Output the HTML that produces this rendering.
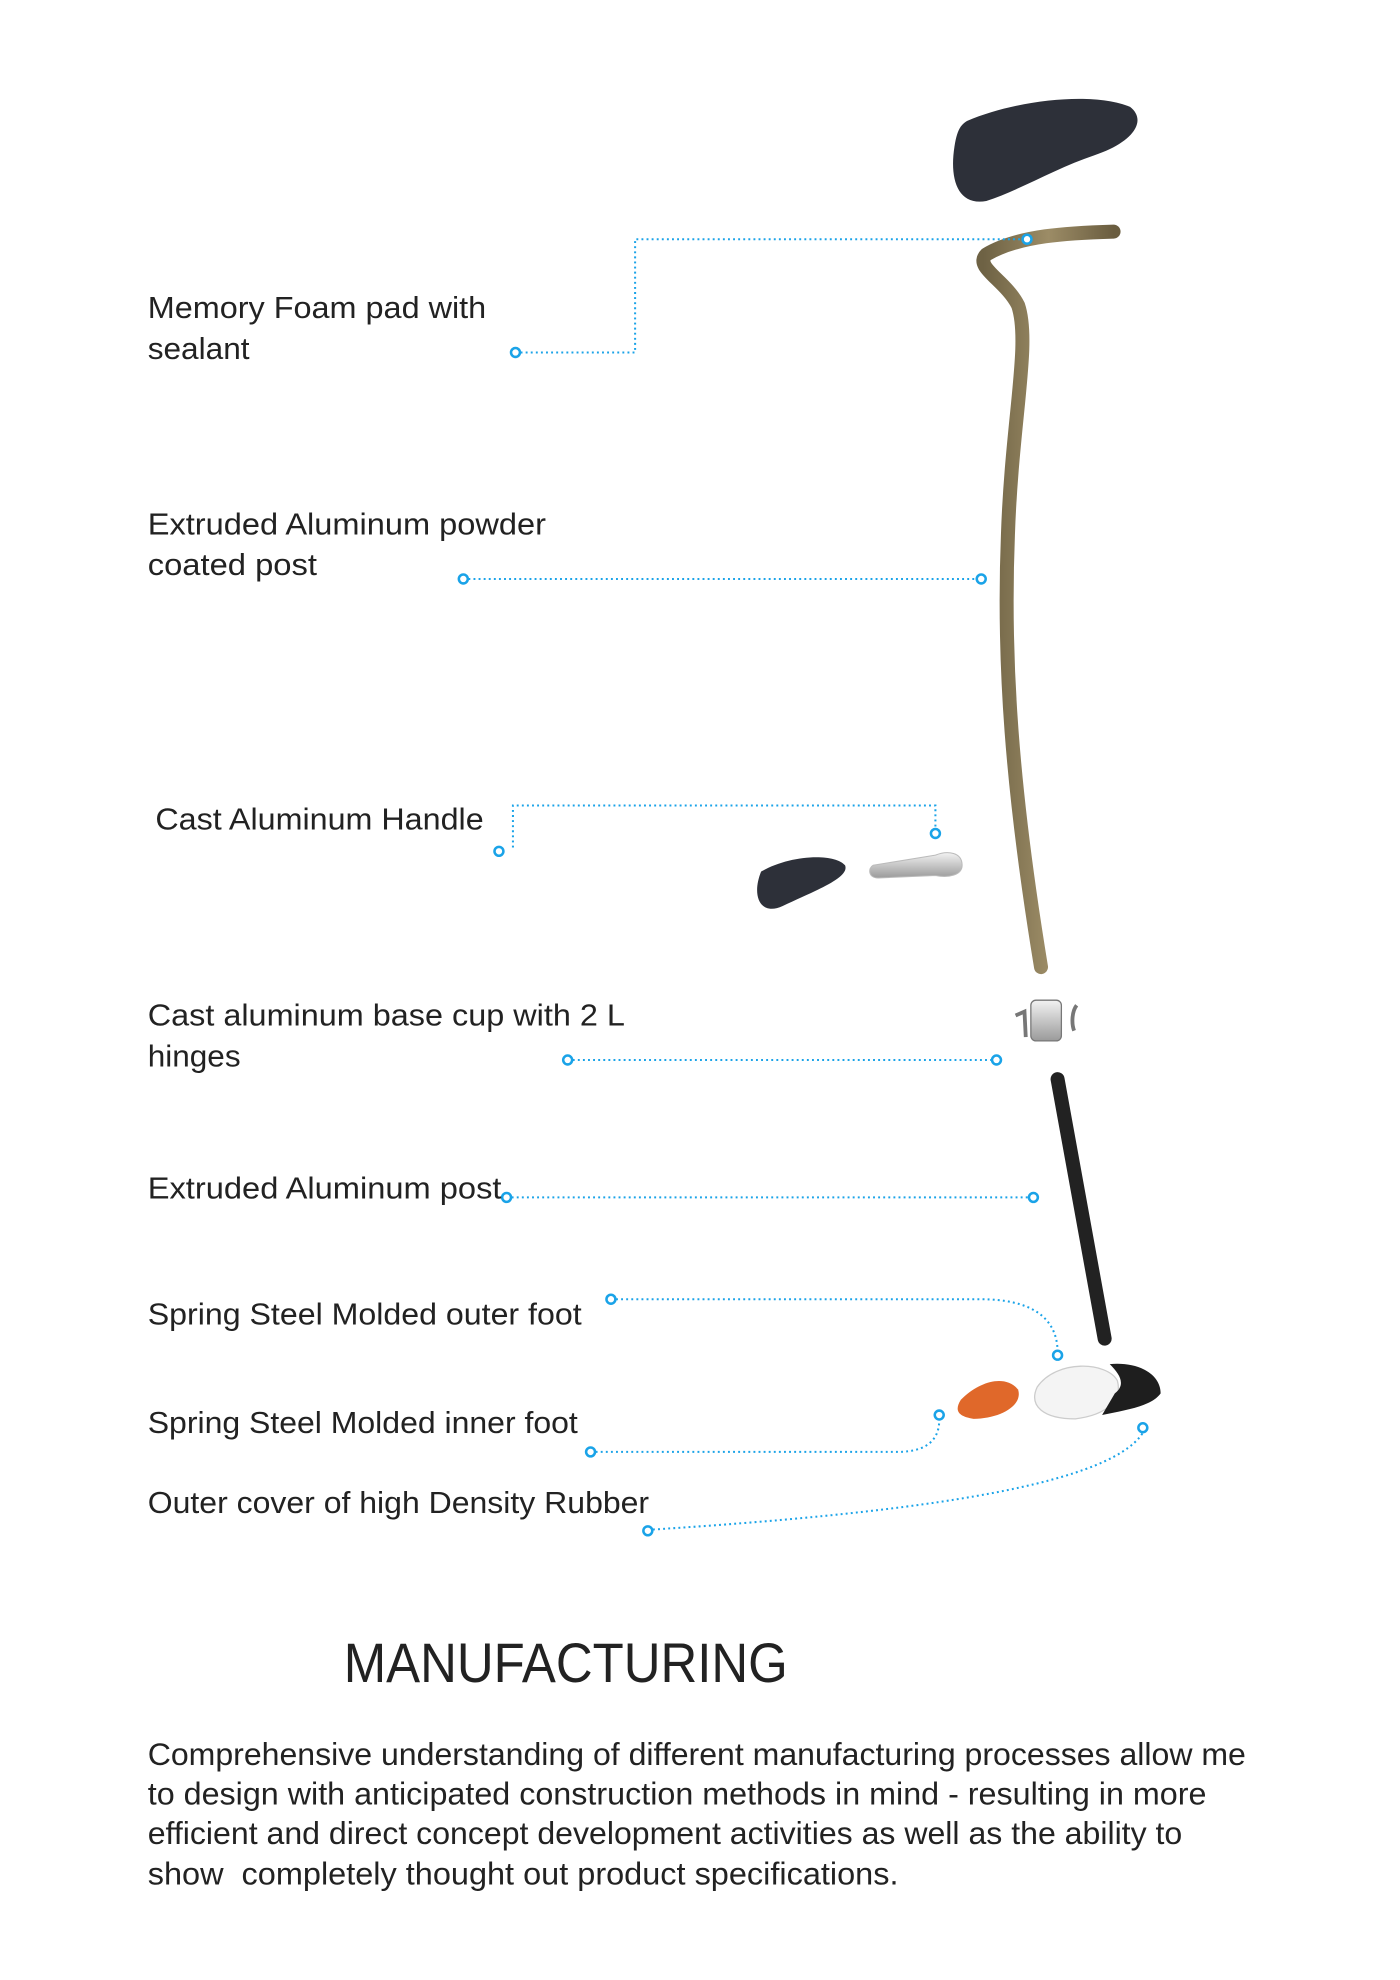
<!DOCTYPE html>
<html><head><meta charset="utf-8"><style>
html,body{margin:0;padding:0;background:#fff;}
svg{display:block;}
text{font-family:"Liberation Sans",sans-serif;fill:#222;}
</style></head><body>
<svg width="1400" height="1980" viewBox="0 0 1100 1556" xmlns="http://www.w3.org/2000/svg">
<defs>
<linearGradient id="post" x1="0" x2="1"><stop offset="0" stop-color="#6e6244"/><stop offset="0.5" stop-color="#9c8c66"/><stop offset="1" stop-color="#6a5d40"/></linearGradient>
<linearGradient id="silver" x1="0" x2="0" y1="0" y2="1"><stop offset="0" stop-color="#f2f2f2"/><stop offset="1" stop-color="#9a9a9a"/></linearGradient>
</defs>
<path d="M760 95 C800 78 860 72 888 84 C902 95 890 112 860 122 C830 132 800 150 775 158 C752 162 746 140 750 115 C752 102 755 98 760 95Z" fill="#2d3039"/>
<path d="M875 182 C840 183 800 185 775 200 C765 210 790 220 800 240 C810 270 795 330 792 420 C788 520 795 620 818 760" fill="none" stroke="url(#post)" stroke-width="11" stroke-linecap="round"/>
<path d="M598 685 C620 672 655 670 664 680 C668 690 640 700 615 712 C598 720 590 705 598 685Z" fill="#2d3039"/>
<path d="M686 680 L735 672 C745 668 756 670 756 680 C756 688 745 690 735 688 L690 690 C682 690 682 682 686 680Z" fill="url(#silver)" stroke="#bbb" stroke-width="0.8"/>
<rect x="810" y="786" width="24" height="32" rx="4" fill="url(#silver)" stroke="#777" stroke-width="1"/>
<path d="M798 798 L805 795 L806 815" fill="none" stroke="#777" stroke-width="3"/>
<path d="M846 790 C842 795 842 805 844 810" fill="none" stroke="#777" stroke-width="3"/>
<path d="M831 848 L868 1052" stroke="#222" stroke-width="11" stroke-linecap="round"/>
<path d="M755 1100 C770 1085 790 1080 800 1092 C804 1105 785 1115 765 1115 C752 1113 750 1108 755 1100Z" fill="#e0682a"/>
<path d="M815 1090 C830 1068 870 1070 878 1085 C882 1100 870 1112 845 1115 C820 1115 808 1105 815 1090Z" fill="#f4f4f4" stroke="#ccc" stroke-width="1"/>
<path d="M872 1072 C895 1070 912 1080 912 1095 C905 1105 885 1108 866 1112 L876 1095 C885 1088 880 1080 872 1072Z" fill="#1e1e1e"/>
<g fill="none" stroke="#1aa3e8" stroke-width="1.6" stroke-dasharray="1.5 2.5">
<path d="M409 277 H499 V188 H803"/>
<path d="M368 455 H767"/>
<path d="M403 666 V633 H735 V651"/>
<path d="M450 833 H779"/>
<path d="M402 941 H808"/>
<path d="M484 1021 H770 C810 1021 830 1035 831 1061"/>
<path d="M468 1141 H705 C730 1141 738 1130 738 1116"/>
<path d="M513 1202 C700 1190 870 1170 898 1126"/>
</g>
<g fill="#fff" stroke="#1aa3e8" stroke-width="2">
<circle cx="405" cy="277" r="3.5"/><circle cx="807" cy="188" r="3.5"/>
<circle cx="364" cy="455" r="3.5"/><circle cx="771" cy="455" r="3.5"/>
<circle cx="392" cy="669" r="3.5"/><circle cx="735" cy="655" r="3.5"/>
<circle cx="446" cy="833" r="3.5"/><circle cx="783" cy="833" r="3.5"/>
<circle cx="398" cy="941" r="3.5"/><circle cx="812" cy="941" r="3.5"/>
<circle cx="480" cy="1021" r="3.5"/><circle cx="831" cy="1065" r="3.5"/>
<circle cx="464" cy="1141" r="3.5"/><circle cx="738" cy="1112" r="3.5"/>
<circle cx="509" cy="1203" r="3.5"/><circle cx="898" cy="1122" r="3.5"/>
</g>
<g font-size="24" lengthAdjust="spacingAndGlyphs">
<text x="116" y="250" textLength="266" lengthAdjust="spacingAndGlyphs">Memory Foam pad with</text>
<text x="116" y="282" textLength="80" lengthAdjust="spacingAndGlyphs">sealant</text>
<text x="116" y="420" textLength="313" lengthAdjust="spacingAndGlyphs">Extruded Aluminum powder</text>
<text x="116" y="452" textLength="133" lengthAdjust="spacingAndGlyphs">coated post</text>
<text x="122" y="652" textLength="258" lengthAdjust="spacingAndGlyphs">Cast Aluminum Handle</text>
<text x="116" y="806" textLength="375" lengthAdjust="spacingAndGlyphs">Cast aluminum base cup with 2 L</text>
<text x="116" y="838" textLength="73" lengthAdjust="spacingAndGlyphs">hinges</text>
<text x="116" y="942" textLength="278" lengthAdjust="spacingAndGlyphs">Extruded Aluminum post</text>
<text x="116" y="1041" textLength="341" lengthAdjust="spacingAndGlyphs">Spring Steel Molded outer foot</text>
<text x="116" y="1126" textLength="338" lengthAdjust="spacingAndGlyphs">Spring Steel Molded inner foot</text>
<text x="116" y="1189" textLength="394" lengthAdjust="spacingAndGlyphs">Outer cover of high Density Rubber</text>
</g>
<text x="270" y="1322" font-size="44" textLength="349" lengthAdjust="spacingAndGlyphs">MANUFACTURING</text>
<g font-size="25">
<text x="116" y="1387" textLength="863" lengthAdjust="spacingAndGlyphs">Comprehensive understanding of different manufacturing processes allow me</text>
<text x="116" y="1418" textLength="832" lengthAdjust="spacingAndGlyphs">to design with anticipated construction methods in mind - resulting in more</text>
<text x="116" y="1449" textLength="813" lengthAdjust="spacingAndGlyphs">efficient and direct concept development activities as well as the ability to</text>
<text x="116" y="1481" textLength="590" lengthAdjust="spacingAndGlyphs" xml:space="preserve">show  completely thought out product specifications.</text>
</g>
</svg>
</body></html>
